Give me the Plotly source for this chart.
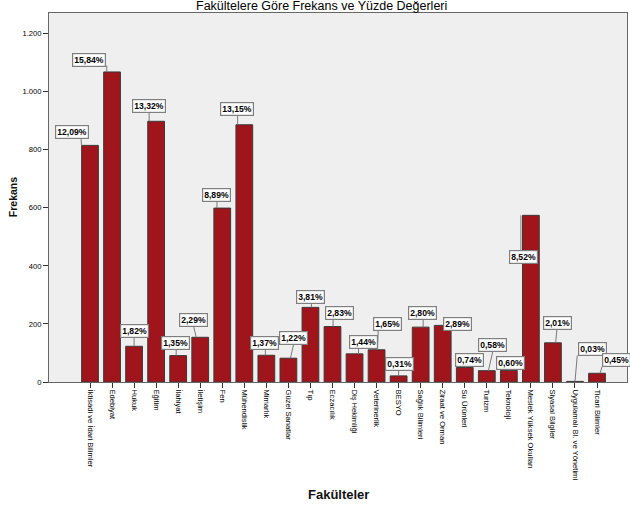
import plotly.graph_objects as go

categories = ["İktisadi ve İdari Bilimler", "Edebiyat", "Hukuk", "Eğitim", "İlahiyat", "İletişim",
              "Fen", "Mühendislik", "Mimarlık", "Güzel Sanatlar", "Tıp", "Eczacılık",
              "Diş Hekimliği", "Veterinerlik", "BESYO", "Sağlık Bilimleri", "Ziraat ve Orman",
              "Su Ürünleri", "Turizm", "Teknoloji", "Meslek Yüksek Okulları", "Siyasal Bilgiler",
              "Uygulamalı Bl. ve Yönetimi", "Ticari Bilimler"]
frequencies = [815, 1068, 123, 898, 91, 154, 599, 886, 92, 82, 257, 191,
               97, 111, 21, 189, 195, 50, 39, 40, 574, 135, 2, 30]
percent_labels = ["12,09%", "15,84%", "1,82%", "13,32%", "1,35%", "2,29%", "8,89%", "13,15%",
                  "1,37%", "1,22%", "3,81%", "2,83%", "1,44%", "1,65%", "0,31%", "2,80%",
                  "2,89%", "0,74%", "0,58%", "0,60%", "8,52%", "2,01%", "0,03%", "0,45%"]
y_tick_values = [0, 200, 400, 600, 800, 1000, 1200]
y_tick_labels = ["0", "200", "400", "600", "800", "1.000", "1.200"]

# label box offsets (pixels from bar top centre) and leader line offsets
box_dx = [-18, -23.3, 0, -7.3, -3, -7.2, -5.3, -7.5, -2.3, 5.5, 0, 7, 9.4, 10.8, 0.6, 1.4,
          15, 5, 5.8, 1.8, -7.5, 4.2, 18, 19.3]
box_dy = [13, 12, 15.3, 15, 12.7, 17.7, 13.3, 15.3, 12.7, 20, 10.3, 14, 12.1, 26, 12, 14.4,
          1.5, 7, 25.5, 7.2, -41.4, 19.6, 32.2, 12.8]
lead_x0 = [-8.5, -5.3, 0, -7, -2, -4, -5.3, -6.7, -1, 2, 1, 0.6, 4, 1, 0, 2.5,
           8, 1, 1.6, 1, -10, 2.7, 0, 3]
lead_x1 = [-9, -5.3, 0, -7, -2, -6.7, -5.3, -6.7, -1, 5.3, 1, 0.6, 4, 1.6, 0, 2.5,
           8, 1, 6, 1, -10, 4, 2.3, 5]
lead_y1 = [7, 6.4, 8.7, 8.6, 7, 11.3, 6.6, 9, 7, 14, 4, 8, 6, 19.3, 5.7, 8.4,
           0, 1, 19.3, 1, -35, 13.3, 26, 6.6]

FONT = "Liberation Sans, Arial, sans-serif"
xs = list(range(len(categories)))

fig = go.Figure()
fig.add_trace(go.Bar(
    x=xs, y=frequencies,
    marker=dict(color="#A0141C", line=dict(color="#3a3a3a", width=1)),
    width=0.76, hoverinfo="skip",
))

shapes = []
annotations = []
for i, (v, lab) in enumerate(zip(frequencies, percent_labels)):
    if lead_y1[i] != 0:
        shapes.append(dict(
            type="line", xref="x", yref="y",
            xsizemode="pixel", ysizemode="pixel",
            xanchor=i, yanchor=v,
            x0=lead_x0[i], x1=lead_x1[i], y0=0, y1=lead_y1[i],
            line=dict(color="#7a7a7a", width=1),
        ))
    annotations.append(dict(
        x=i, y=v, xref="x", yref="y", text="<b>" + lab + "</b>",
        showarrow=False, xshift=box_dx[i], yshift=box_dy[i],
        xanchor="center", yanchor="middle",
        font=dict(family=FONT, size=8.6, color="#000"),
        bgcolor="#ffffff", bordercolor="#7f7f7f", borderwidth=1.2, borderpad=1,
    ))

annotations.append(dict(
    x=0.4706, y=1, xref="paper", yref="paper", yshift=7,
    text="Fakültelere Göre Frekans ve Yüzde Değerleri", showarrow=False,
    xanchor="center", yanchor="middle",
    font=dict(family=FONT, size=12.5, color="#000"),
))
annotations.append(dict(
    x=-0.0628, y=0.5, xref="paper", yref="paper", textangle=-90,
    text="<b>Frekans</b>", showarrow=False, xanchor="center", yanchor="middle",
    font=dict(family=FONT, size=10.5, color="#111"),
))
annotations.append(dict(
    x=0.5, y=0, xref="paper", yref="paper", yshift=-112,
    text="<b>Fakülteler</b>", showarrow=False, xanchor="center", yanchor="middle",
    font=dict(family=FONT, size=13, color="#111"),
))

fig.update_layout(
    width=630, height=505,
    margin=dict(l=49, r=3, t=13, b=123, autoexpand=False),
    paper_bgcolor="#ffffff", plot_bgcolor="#efefef",
    showlegend=False, shapes=shapes, annotations=annotations,
    font=dict(family=FONT, size=7.6, color="#000"),
)
fig.update_xaxes(
    range=[-1.86, 24.36], tickmode="array", tickvals=xs, ticktext=categories,
    tickangle=90, ticks="outside", ticklen=5, tickcolor="#333", tickwidth=1,
    showline=True, linecolor="#666", linewidth=1, mirror=True,
    showgrid=False, zeroline=False, tickfont=dict(family=FONT, size=7.6, color="#000"),
)
fig.update_yaxes(
    range=[0, 1271], tickmode="array", tickvals=y_tick_values, ticktext=y_tick_labels,
    ticks="outside", ticklen=5, tickcolor="#333", tickwidth=1,
    showline=True, linecolor="#666", linewidth=1, mirror=True,
    showgrid=False, zeroline=False, tickfont=dict(family=FONT, size=7.6, color="#000"),
)

fig.write_html(
    "out.html",
    config={"displayModeBar": False, "staticPlot": True},
    post_script="document.body.style.margin='0';document.body.style.overflow='hidden';",
)
